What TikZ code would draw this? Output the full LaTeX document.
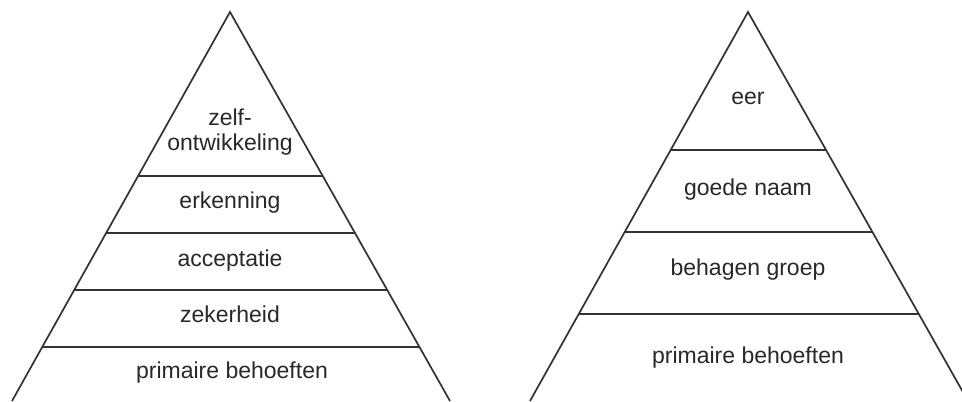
\documentclass[tikz,border=0pt]{standalone}
\usepackage{fontspec}
\setmainfont{Liberation Sans}
\usetikzlibrary{calc}
\definecolor{pyrline}{RGB}{50,50,50}
\definecolor{pyrtext}{RGB}{40,40,40}

\begin{document}
\begin{tikzpicture}[x=0.5pt, y=-0.5pt,
    edge/.style={draw=pyrline, line width=0.85pt, line join=miter},
    tier/.style={draw=pyrline, line width=0.8pt},
    lab/.style={font=\fontsize{11.5}{12.5}\selectfont, text=pyrtext,
                align=center, inner sep=0pt}]
  % pinned box: same size as the scan, the right pyramid runs off its edge
  \useasboundingbox (0,0) rectangle (962,401);
  \clip (0,0) rectangle (962,401);
  \def\yt{12}        % apex height
  \def\yb{401}       % bottom of the sheet
  % --- left pyramid: five needs ---------------------------------------------
  \coordinate (la) at (230,\yt);
  \coordinate (ll) at (12,\yb);
  \coordinate (lr) at (450,\yb);
  \draw[edge] (ll) -- (la) -- (lr);
  \foreach \y [count=\k] in {176,233,290,347} {
    \pgfmathsetmacro\t{(\y-\yt)/(\yb-\yt)}
    \coordinate (lw\k) at ($(la)!\t!(ll)$);
    \coordinate (le\k) at ($(la)!\t!(lr)$);
    \draw[tier] (lw\k) -- (le\k); }
  \node[lab] (zelf) at (230,132) {zelf-\\ontwikkeling};
  \node[lab] (erk)  at (230,203) {erkenning};
  \node[lab] (acc)  at (230,261) {acceptatie};
  \node[lab] (zek)  at (230,314) {zekerheid};
  \node[lab] (prl)  at (232,373) {primaire behoeften};
  % --- right pyramid: four needs --------------------------------------------
  \coordinate (ra) at (748,\yt);
  \coordinate (rl) at (530,\yb);
  \coordinate (rr) at (968,\yb);
  \draw[edge] (rl) -- (ra) -- (rr);
  \foreach \y [count=\k] in {150,232,314} {
    \pgfmathsetmacro\t{(\y-\yt)/(\yb-\yt)}
    \coordinate (rw\k) at ($(ra)!\t!(rl)$);
    \coordinate (re\k) at ($(ra)!\t!(rr)$);
    \draw[tier] (rw\k) -- (re\k); }
  \node[lab] (eer)  at (748,98)  {eer};
  \node[lab] (goed) at (748,190) {goede naam};
  \node[lab] (beh)  at (748,270) {behagen groep};
  \node[lab] (prr)  at (748,358) {primaire behoeften};
\end{tikzpicture}
\end{document}
